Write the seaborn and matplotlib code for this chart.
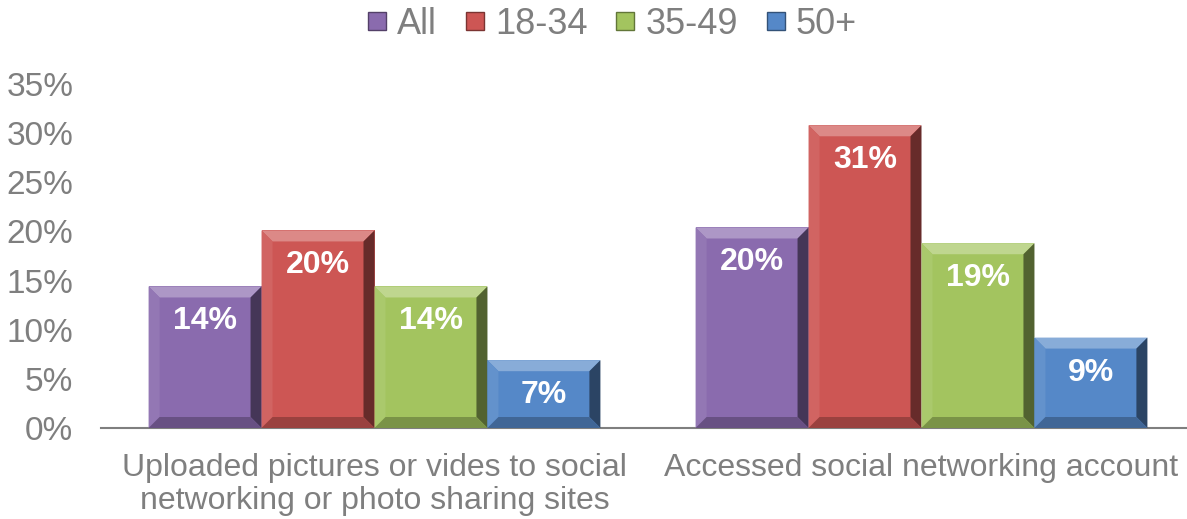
import matplotlib
matplotlib.use("Agg")
import matplotlib.pyplot as plt
import matplotlib.colors as mcolors
from matplotlib.patches import Polygon
from matplotlib.lines import Line2D
import numpy as np
import pandas as pd
import seaborn as sns

categories = [
    "Uploaded pictures or vides to social\nnetworking or photo sharing sites",
    "Accessed social networking account",
]
groups = ["All", "18-34", "35-49", "50+"]
values_all = [14.4, 20.4]
values_18_34 = [20.1, 30.8]
values_35_49 = [14.4, 18.8]
values_50_plus = [6.9, 9.2]
yticks = [0, 5, 10, 15, 20, 25, 30, 35]
colors = ["#8A6BAE", "#CD5654", "#A3C45F", "#5588C8"]

GRAY = "#7F7F7F"


def mix(c, other, t):
    a = np.array(mcolors.to_rgb(c))
    b = np.array(mcolors.to_rgb(other))
    return tuple(a * (1 - t) + b * t)


def bevel(ax):
    # pixel size of the bevel turned into data units
    inv = ax.transData.inverted()
    p0 = inv.transform((0, 0))
    p1 = inv.transform((11, 11))
    bx, by = abs(p1[0] - p0[0]), abs(p1[1] - p0[1])
    for patch in list(ax.patches):
        x0 = patch.get_x()
        w = patch.get_width()
        h = patch.get_height()
        if h <= 0:
            continue
        x1 = x0 + w
        y0, y1 = 0, h
        c = patch.get_facecolor()
        faces = [
            ([(x0, y1), (x1, y1), (x1 - bx, y1 - by), (x0 + bx, y1 - by)], mix(c, "white", 0.3)),
            ([(x0, y0), (x0, y1), (x0 + bx, y1 - by), (x0 + bx, y0 + by)], mix(c, "white", 0.08)),
            ([(x1, y0), (x1, y1), (x1 - bx, y1 - by), (x1 - bx, y0 + by)], mix(c, "black", 0.5)),
            ([(x0, y0), (x1, y0), (x1 - bx, y0 + by), (x0 + bx, y0 + by)], mix(c, "black", 0.25)),
        ]
        for pts, fc in faces:
            ax.add_patch(Polygon(pts, closed=True, facecolor=fc, edgecolor="none", zorder=3))


def main():
    df = pd.DataFrame({
        "category": categories * 4,
        "group": [g for g in groups for _ in categories],
        "value": values_all + values_18_34 + values_35_49 + values_50_plus,
    })

    sns.set_style("white")
    plt.rcParams["font.family"] = ["Liberation Sans", "DejaVu Sans"]

    fig = plt.figure(figsize=(11.87, 5.19), dpi=100)
    ax = fig.add_axes([101 / 1187, 1 - 428 / 519, 1094 / 1187, 344 / 519])

    sns.barplot(data=df, x="category", y="value", hue="group", hue_order=groups,
                palette=colors, width=0.826, saturation=1, legend=False, ax=ax,
                linewidth=0, zorder=2)

    ax.set_xlim(-0.5, 1.5)
    ax.set_ylim(0, 35)
    ax.set_yticks(yticks)
    ax.set_yticklabels([f"{t}%" for t in yticks])
    ax.set_xlabel("")
    ax.set_ylabel("")

    for s in ["top", "right", "left"]:
        ax.spines[s].set_visible(False)
    ax.spines["bottom"].set_color(GRAY)
    ax.spines["bottom"].set_linewidth(1.5)

    ax.tick_params(axis="y", length=0, labelsize=24, labelcolor=GRAY, pad=20)
    ax.tick_params(axis="x", which="major", length=0, labelsize=23, labelcolor=GRAY, pad=18)
    ax.set_xticks([-0.5, 0.5, 1.5], minor=True)
    ax.tick_params(axis="x", which="minor", length=8, width=1.5, color=GRAY, direction="out")
    for t in ax.get_xticklabels():
        t.set_linespacing(1.15)

    for cont in ax.containers:
        labels = [f"{v:.0f}%" for v in cont.datavalues]
        ax.bar_label(cont, labels=labels, padding=-36, color="white",
                     fontsize=23, fontweight="bold", zorder=5)

    bevel(ax)

    handles = [Line2D([], [], marker="s", linestyle="none", markersize=13,
                      markerfacecolor=c, markeredgecolor=mix(c, "black", 0.4))
               for c in colors]
    fig.legend(handles, groups, loc="upper center", bbox_to_anchor=(0.516, 1.05),
               ncol=4, frameon=False, fontsize=26, labelcolor=GRAY,
               handlelength=0.5, handletextpad=0.3, columnspacing=0.8)

    plt.savefig("out.png", dpi=100)


if __name__ == "__main__":
    main()
